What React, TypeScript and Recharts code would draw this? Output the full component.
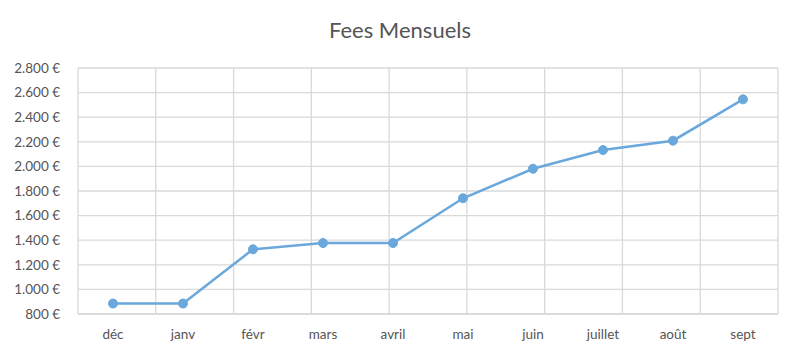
import { LineChart, Line, XAxis, YAxis, CartesianGrid } from 'recharts';

const months = ['déc', 'janv', 'févr', 'mars', 'avril', 'mai', 'juin', 'juillet', 'août', 'sept'];
const fees = [885, 885, 1326, 1377, 1377, 1741, 1981, 2133, 2209, 2545];
const yTicks = [800, 1000, 1200, 1400, 1600, 1800, 2000, 2200, 2400, 2600, 2800];
const gridTicks = [0, 1, 2, 3, 4, 5, 6, 7, 8, 9, 10];

// each month sits in the middle of its slot
const data = months.map((m, i) => ({ month: m, pos: i + 0.5, fees: fees[i] }));
const monthTicks = data.map((d) => d.pos);

const FONT = 'Lato, "Open Sans", sans-serif';
const TEXT = '#555555';
const GRID = '#d9d9d9';
const BLUE = '#6aa8dc';

function euro(v: number) {
  const s = String(v);
  return (s.length > 3 ? s.slice(0, -3) + '.' + s.slice(-3) : s) + ' €';
}

export default function App() {
  return (
    <div
      style={{
        position: 'absolute',
        left: 0,
        top: 0,
        width: 800,
        height: 353,
        background: '#fff',
        fontFamily: FONT,
      }}
    >
      <div
        style={{
          position: 'absolute',
          top: 16,
          left: 0,
          width: 800,
          textAlign: 'center',
          fontSize: 22,
          color: TEXT,
        }}
      >
        Fees Mensuels
      </div>
      <LineChart
        width={800}
        height={353}
        data={data}
        margin={{ top: 68, right: 22, bottom: 0, left: 0 }}
      >
        <XAxis xAxisId="grid" type="number" domain={[0, 10]} ticks={gridTicks} height={0} hide />
        <CartesianGrid xAxisId="grid" stroke={GRID} strokeWidth={1.3} />
        <XAxis
          dataKey="pos"
          type="number"
          domain={[0, 10]}
          ticks={monthTicks}
          tickFormatter={(v: number) => months[Math.floor(v)]}
          height={39}
          axisLine={{ stroke: GRID, strokeWidth: 1.3 }}
          tickLine={false}
          tickSize={0}
          tickMargin={15}
          tick={{ fill: TEXT, fontSize: 13.5, fontFamily: FONT }}
        />
        <YAxis
          width={78}
          domain={[800, 2800]}
          ticks={yTicks}
          tickFormatter={euro}
          axisLine={false}
          tickLine={false}
          tickSize={0}
          tickMargin={18}
          tick={{ fill: TEXT, fontSize: 13.5, fontFamily: FONT }}
        />
        <Line
          dataKey="fees"
          stroke={BLUE}
          strokeWidth={2.5}
          dot={{ r: 4.5, fill: BLUE, stroke: BLUE, strokeWidth: 1 }}
          isAnimationActive={false}
        />
      </LineChart>
    </div>
  );
}
